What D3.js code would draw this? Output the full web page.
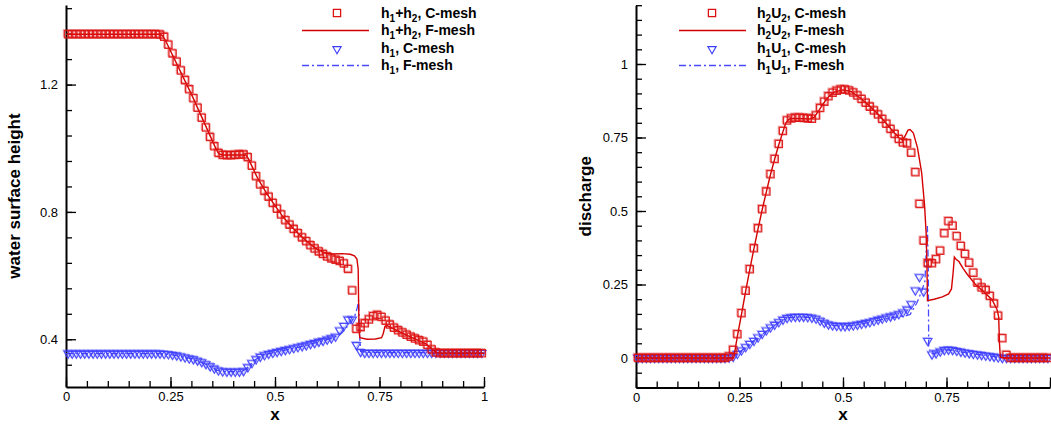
<!DOCTYPE html>
<html><head><meta charset="utf-8">
<script src="https://cdn.jsdelivr.net/npm/d3@7"></script>
<style>
body{margin:0;background:#fff}
svg{display:block}
text{font-family:"Liberation Sans",Arial,Helvetica,sans-serif;fill:#000}
</style>
</head><body>
<svg id="c" width="1051" height="425"></svg>
<script>
// ---------- data ----------
const xC = [
0.005,0.015,0.025,0.035,0.045,0.055,0.065,0.075,0.085,0.095,
0.105,0.115,0.125,0.135,0.145,0.155,0.165,0.175,0.185,0.195,
0.205,0.215,0.225,0.235,0.245,0.255,0.265,0.275,0.285,0.295,
0.305,0.315,0.325,0.335,0.345,0.355,0.365,0.375,0.385,0.395,
0.405,0.415,0.425,0.435,0.445,0.455,0.465,0.475,0.485,0.495,
0.505,0.515,0.525,0.535,0.545,0.555,0.565,0.575,0.585,0.595,
0.605,0.615,0.625,0.635,0.645,0.655,0.665,0.675,0.685,0.695,
0.705,0.715,0.725,0.735,0.745,0.755,0.765,0.775,0.785,0.795,
0.805,0.815,0.825,0.835,0.845,0.855,0.865,0.875,0.885,0.895,
0.905,0.915,0.925,0.935,0.945,0.955,0.965,0.975,0.985,0.995];

// left panel: h1+h2 (C-mesh)
const sumC = [
1.358,1.358,1.358,1.358,1.358,1.358,1.358,1.358,1.358,1.358,
1.358,1.358,1.358,1.358,1.358,1.358,1.358,1.358,1.358,1.358,
1.358,1.358,1.357,1.350,1.325,1.298,1.272,1.244,1.214,1.185,
1.157,1.127,1.096,1.065,1.035,1.006,0.985,0.979,0.978,0.978,
0.979,0.980,0.980,0.972,0.945,0.912,0.886,0.866,0.848,0.828,
0.810,0.792,0.774,0.760,0.746,0.733,0.720,0.708,0.695,0.685,
0.676,0.668,0.660,0.654,0.650,0.646,0.638,0.621,0.553,0.432,
0.438,0.450,0.462,0.472,0.476,0.470,0.458,0.446,0.436,0.428,
0.421,0.414,0.408,0.402,0.397,0.392,0.382,0.368,0.358,0.356,
0.356,0.356,0.356,0.356,0.356,0.356,0.356,0.356,0.356,0.356];

// left panel: h1 (C-mesh)
const h1C = [
0.355,0.355,0.355,0.355,0.355,0.355,0.355,0.355,0.355,0.355,
0.355,0.355,0.355,0.355,0.355,0.355,0.355,0.355,0.355,0.355,
0.355,0.355,0.355,0.354,0.353,0.351,0.349,0.346,0.343,0.340,
0.337,0.333,0.328,0.322,0.315,0.308,0.302,0.299,0.298,0.298,
0.298,0.298,0.300,0.312,0.325,0.337,0.345,0.350,0.354,0.357,
0.360,0.363,0.366,0.369,0.372,0.375,0.378,0.381,0.385,0.388,
0.392,0.395,0.399,0.403,0.408,0.428,0.442,0.462,0.462,0.382,
0.360,0.357,0.357,0.357,0.357,0.357,0.357,0.357,0.357,0.357,
0.357,0.357,0.357,0.357,0.357,0.357,0.357,0.357,0.357,0.357,
0.357,0.357,0.357,0.357,0.357,0.357,0.357,0.357,0.357,0.357];

// left panel: F-mesh lines [x, value]
const sumF = [[0,1.358],[0.226,1.358],[0.232,1.352],[0.24,1.333],[0.30,1.170],[0.36,0.995],[0.366,0.982],
[0.375,0.979],[0.43,0.979],[0.436,0.968],[0.445,0.943],[0.46,0.902],[0.48,0.858],[0.50,0.820],[0.52,0.783],
[0.54,0.753],[0.56,0.727],[0.58,0.703],[0.60,0.683],[0.62,0.671],[0.64,0.668],[0.66,0.669],[0.68,0.667],
[0.69,0.662],[0.696,0.652],[0.699,0.620],[0.700,0.520],[0.701,0.430],[0.703,0.405],[0.72,0.400],[0.74,0.401],
[0.755,0.405],[0.759,0.418],[0.763,0.440],[0.768,0.443],[0.78,0.435],[0.80,0.422],[0.82,0.410],[0.84,0.398],
[0.86,0.386],[0.875,0.370],[0.885,0.358],[0.90,0.356],[1.0,0.356]];
const h1F = [[0,0.355],[0.22,0.355],[0.25,0.352],[0.30,0.339],[0.33,0.324],[0.36,0.303],[0.38,0.298],[0.42,0.298],
[0.43,0.306],[0.45,0.333],[0.47,0.350],[0.50,0.359],[0.55,0.373],[0.60,0.390],[0.64,0.405],[0.66,0.420],
[0.68,0.450],[0.69,0.470],[0.697,0.500],[0.700,0.523],[0.702,0.420],[0.705,0.362],[0.72,0.359],[0.80,0.358],[1.0,0.357]];

// right panel: h2U2 (C-mesh)
const quC = [
0,0,0,0,0,0,0,0,0,0,
0,0,0,0,0,0,0,0,0,0,
0,0,0.005,0.027,0.081,0.152,0.229,0.302,0.373,0.441,
0.506,0.566,0.625,0.677,0.728,0.772,0.808,0.815,0.817,0.817,
0.816,0.815,0.814,0.825,0.850,0.872,0.890,0.902,0.909,0.913,
0.913,0.910,0.903,0.893,0.881,0.868,0.855,0.842,0.828,0.813,
0.797,0.779,0.762,0.745,0.733,0.730,0.698,0.632,0.524,0.399,
0.322,0.322,0.336,0.365,0.424,0.465,0.450,0.414,0.381,0.354,
0.324,0.290,0.256,0.240,0.231,0.211,0.185,0.144,0.067,0.010,
0,0,0,0,0,0,0,0,0,0];

// right panel: h1U1 (C-mesh)
const q1C = [
0,0,0,0,0,0,0,0,0,0,
0,0,0,0,0,0,0,0,0,0,
0,0,0.001,0.004,0.014,0.026,0.037,0.048,0.058,0.070,
0.082,0.094,0.104,0.113,0.122,0.130,0.136,0.139,0.140,0.140,
0.140,0.139,0.137,0.134,0.127,0.120,0.114,0.111,0.109,0.108,
0.108,0.109,0.111,0.113,0.116,0.119,0.122,0.126,0.130,0.134,
0.138,0.141,0.145,0.149,0.155,0.165,0.183,0.230,0.275,0.226,
0.058,0.012,0.016,0.022,0.027,0.028,0.027,0.024,0.021,0.018,
0.016,0.014,0.012,0.010,0.008,0.006,0.004,0.002,0,0,
0,0,0,0,0,0,0,0,0,0];

// right panel: F-mesh lines [x, value]
const quF = [[0,0],[0.236,0],[0.245,0.075],[0.255,0.150],[0.265,0.228],[0.275,0.302],[0.285,0.373],[0.295,0.441],
[0.305,0.506],[0.315,0.566],[0.325,0.625],[0.335,0.677],[0.345,0.726],[0.355,0.770],[0.362,0.800],[0.37,0.813],
[0.38,0.815],[0.42,0.813],[0.43,0.818],[0.44,0.838],[0.45,0.860],[0.46,0.880],[0.47,0.895],[0.48,0.905],
[0.50,0.912],[0.52,0.906],[0.54,0.886],[0.56,0.862],[0.58,0.836],[0.60,0.805],[0.62,0.772],[0.635,0.750],
[0.643,0.742],[0.65,0.755],[0.657,0.775],[0.662,0.777],[0.67,0.765],[0.68,0.715],[0.69,0.630],[0.697,0.520],
[0.701,0.420],[0.703,0.300],[0.704,0.195],[0.72,0.200],[0.74,0.208],[0.755,0.218],[0.762,0.235],[0.766,0.290],
[0.769,0.343],[0.773,0.336],[0.78,0.328],[0.79,0.305],[0.80,0.285],[0.82,0.250],[0.84,0.225],[0.86,0.198],
[0.872,0.165],[0.876,0.140],[0.878,0.050],[0.88,0.002],[0.90,0],[1.0,0]];
const q1F = [[0,0],[0.225,0],[0.235,0.004],[0.25,0.020],[0.30,0.076],[0.35,0.126],[0.37,0.137],[0.40,0.140],
[0.43,0.136],[0.45,0.124],[0.47,0.112],[0.50,0.108],[0.53,0.112],[0.56,0.120],[0.60,0.132],[0.63,0.140],
[0.65,0.143],[0.662,0.148],[0.678,0.186],[0.69,0.227],[0.698,0.262],[0.702,0.400],[0.704,0.449],[0.706,0.300],
[0.707,0.040],[0.712,0.015],[0.72,0.014],[0.74,0.024],[0.755,0.028],[0.78,0.022],[0.82,0.013],[0.86,0.006],
[0.88,0.001],[0.90,0],[1.0,0]];

// ticks and labels
const xTicks = [0, 0.25, 0.5, 0.75, 1];
const xTickLabelsR = [0, 0.25, 0.5, 0.75];
const yTicksL = [0.4, 0.8, 1.2];
const yTicksR = [0, 0.25, 0.5, 0.75, 1];
const legendL = ["h_1+h_2, C-mesh", "h_1+h_2, F-mesh", "h_1, C-mesh", "h_1, F-mesh"];
const legendR = ["h_2U_2, C-mesh", "h_2U_2, F-mesh", "h_1U_1, C-mesh", "h_1U_1, F-mesh"];
const yTitleL = "water surface height";
const yTitleR = "discharge";
const xTitle = "x";

// ---------- drawing ----------
const RED = "#dd1111", RED_LINE = "#d40000", BLUE = "#3c3cff", BLUE_LINE = "#4a4aff";
const svg = d3.select("#c");
const sqSym = d3.symbol().type(d3.symbolSquare).size(52)();
const trSym = d3.symbol().type(d3.symbolTriangle).size(30)();

function richText(sel, str) {
  const parts = str.split(/(_\w)/);
  let sub = false;
  parts.forEach(p => {
    if (!p) return;
    if (p[0] === "_") {
      sel.append("tspan").attr("font-size", 10).attr("dy", 4).text(p.slice(1));
      sub = true;
    } else {
      const t = sel.append("tspan").text(p);
      if (sub) { t.attr("dy", -4); sub = false; }
    }
  });
}

function markers(g, data, sym, color, sw, rot, x, y) {
  // faint offset copy (soft doubled look of the original raster), then the main marker
  [[-1, -1, 0.35], [0, 0, 0.9]].forEach(([dx, dy, op]) => {
    g.append("g").selectAll("path").data(data).join("path")
      .attr("d", sym)
      .attr("transform", (d, i) => `translate(${x(xC[i]) + dx},${y(d) + dy})${rot ? " rotate(180)" : ""}`)
      .attr("fill", "none").attr("stroke", color).attr("stroke-width", sw).attr("opacity", op);
  });
}

function panel(cfg) {
  const { x, y, g } = cfg;
  const y0 = y.range()[0], x0 = x.range()[0];
  const mx = g.append("g").attr("transform", `translate(0,${y0})`)
    .call(d3.axisBottom(x).tickValues(cfg.xMinor).tickSize(-6).tickFormat(""));
  mx.select(".domain").remove();
  const my = g.append("g").attr("transform", `translate(${x0},0)`)
    .call(d3.axisLeft(y).tickValues(cfg.yMinor).tickSize(-6).tickFormat(""));
  my.select(".domain").remove();
  const ax = g.append("g").attr("transform", `translate(0,${y0})`)
    .call(d3.axisBottom(x).tickValues(xTicks).tickSize(-10).tickSizeOuter(0).tickPadding(5)
      .tickFormat(d => cfg.xLab.includes(d) ? String(d) : ""));
  const ay = g.append("g").attr("transform", `translate(${x0},0)`)
    .call(d3.axisLeft(y).tickValues(cfg.yTicks).tickSize(-10).tickSizeOuter(0).tickPadding(8)
      .tickFormat(d => String(d)));
  [mx, my, ax, ay].forEach(a => {
    a.attr("font-family", null).attr("font-size", 13);
    a.selectAll("line").attr("stroke", "#000").attr("stroke-width", 1.3);
    a.selectAll("text").attr("fill", "#000");
  });
  [ax, ay].forEach(a => a.select(".domain").attr("stroke", "#000").attr("stroke-width", 2));

  const line = d3.line().x(d => x(d[0])).y(d => y(d[1]));
  g.append("path").attr("d", line(cfg.blueF)).attr("fill", "none").attr("stroke", BLUE_LINE)
    .attr("stroke-width", 1.3).attr("stroke-dasharray", "7,3,2,3");
  markers(g, cfg.blueC, trSym, BLUE, 1.1, true, x, y);
  g.append("path").attr("d", line(cfg.redF)).attr("fill", "none").attr("stroke", RED_LINE)
    .attr("stroke-width", 1.4);
  markers(g, cfg.redC, sqSym, RED, 1.3, false, x, y);

  g.append("text").attr("transform", `translate(${cfg.yTitleX},${(y.range()[0] + y.range()[1]) / 2}) rotate(-90)`)
    .attr("text-anchor", "middle").attr("font-weight", "bold").attr("font-size", 17).text(cfg.yTitle);
  g.append("text").attr("x", (x.range()[0] + x.range()[1]) / 2).attr("y", 420)
    .attr("text-anchor", "middle").attr("font-weight", "bold").attr("font-size", 17).text(xTitle);

  const L = cfg.legend;
  const rows = [13, 30.5, 48, 65.5];
  L.labels.forEach((lab, i) => {
    const yy = rows[i];
    if (i === 0) g.append("path").attr("d", sqSym).attr("transform", `translate(${L.sx},${yy})`)
      .attr("fill", "none").attr("stroke", RED).attr("stroke-width", 1.3);
    if (i === 1) g.append("line").attr("x1", L.lx1).attr("x2", L.lx2).attr("y1", yy).attr("y2", yy)
      .attr("stroke", RED_LINE).attr("stroke-width", 1.4);
    if (i === 2) g.append("path").attr("d", trSym).attr("transform", `translate(${L.sx},${yy + 1}) rotate(180)`)
      .attr("fill", "none").attr("stroke", BLUE).attr("stroke-width", 1.1);
    if (i === 3) g.append("line").attr("x1", L.lx1).attr("x2", L.lx2).attr("y1", yy).attr("y2", yy)
      .attr("stroke", BLUE_LINE).attr("stroke-width", 1.3).attr("stroke-dasharray", "7,3,2,3");
    const t = g.append("text").attr("x", L.tx).attr("y", yy + 4.5).attr("font-weight", "bold").attr("font-size", 14);
    richText(t, lab);
  });
}

const xL = d3.scaleLinear().domain([0, 1]).range([66, 484]);
const yL = d3.scaleLinear().domain([0.25, 1.45]).range([387, 5]);
const xR = d3.scaleLinear().domain([0, 1]).range([636, 1050]);
const yR = d3.scaleLinear().domain([-0.1, 1.2]).range([387.4, 5.2]);

panel({
  g: svg.append("g"), x: xL, y: yL,
  xMinor: d3.range(0, 21).map(i => i * 0.05),
  yMinor: d3.range(0, 15).map(i => 0.32 + i * 0.08),
  xLab: xTicks, yTicks: yTicksL,
  redC: sumC, blueC: h1C, redF: sumF, blueF: h1F,
  yTitle: yTitleL, yTitleX: 20,
  legend: { labels: legendL, sx: 337, lx1: 302, lx2: 369, tx: 381 }
});
panel({
  g: svg.append("g"), x: xR, y: yR,
  xMinor: d3.range(0, 21).map(i => i * 0.05),
  yMinor: d3.range(0, 27).map(i => -0.1 + i * 0.05),
  xLab: xTickLabelsR, yTicks: yTicksR,
  redC: quC, blueC: q1C, redF: quF, blueF: q1F,
  yTitle: yTitleR, yTitleX: 591,
  legend: { labels: legendR, sx: 712, lx1: 679, lx2: 746, tx: 757 }
});
</script>
</body></html>
